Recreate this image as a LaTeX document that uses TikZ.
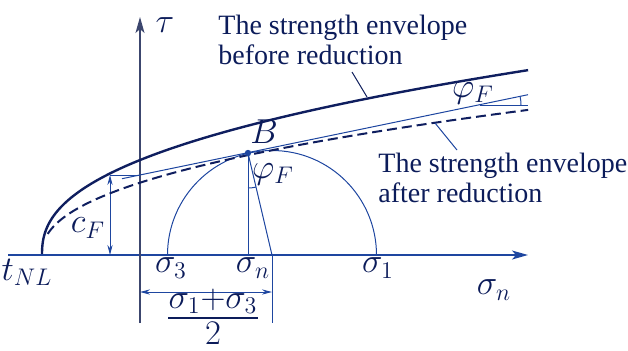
\documentclass[tikz,border=0pt]{standalone}
\usepackage{fontspec}
\setmainfont{Liberation Serif}
\usetikzlibrary{arrows.meta,calc}
\definecolor{lb}{RGB}{30,70,160}
\definecolor{tn}{RGB}{12,28,90}
\definecolor{cv}{RGB}{15,30,95}
\definecolor{ax}{RGB}{60,70,110}
\begin{document}
\begin{tikzpicture}[x=0.5pt,y=-0.5pt,
  font=\fontsize{14}{15}\selectfont,
  thinline/.style={lb, line width=0.5pt},
  axisarrow/.style={-{Stealth[length=8pt,width=4.5pt,inset=2pt]}},
  dimarrow/.style={{Stealth[length=5pt,width=2.6pt]}-{Stealth[length=5pt,width=2.6pt]}},
  lbl/.style={text=tn, inner sep=0pt},
  mlbl/.style={text=tn, inner sep=0pt, font=\fontsize{16.5}{18}\selectfont},
  curvesolid/.style={cv, line width=1.2pt},
  curvedash/.style={cv, line width=1pt, dash pattern=on 5pt off 2.5pt}]
\useasboundingbox (0,0) rectangle (628,350);
% coordinates
\coordinate (xs) at (8,255);
\coordinate (xe) at (528,255);
\coordinate (ys) at (140,323);
\coordinate (ye) at (140,17);
\coordinate (B) at (248,153);
\coordinate (Bn) at (248,255);
\coordinate (C) at (272,255);
\coordinate (S3) at (167.5,255);
\coordinate (Cd) at (272,323);
\coordinate (dL) at (140,292);
\coordinate (dR) at (272,292);
\coordinate (cT) at (110,175);
\coordinate (cB) at (110,255);
\coordinate (cA) at (140,175);
\coordinate (tS) at (122,178.7);
\coordinate (tE) at (528,94.7);
\coordinate (hS) at (480,105);
\coordinate (hE) at (528,105);
\coordinate (l1a) at (352,72);
\coordinate (l1b) at (367,97);
\coordinate (l2a) at (435,123);
\coordinate (l2b) at (457,150);
% axes
\draw[lb, line width=0.7pt, axisarrow] (xs) -- (xe);
\draw[ax, line width=0.6pt, axisarrow] (ys) -- (ye);
% Mohr circle
\draw[thinline] (S3) arc[start angle=180,end angle=360,radius=104.5];
\draw[thinline] (B) -- (Bn);
\draw[thinline] (B) -- (C);
\draw[thinline] (C) -- (Cd);
\draw[thinline, dimarrow] (dL) -- (dR);
\draw[thinline] (248,188) arc[start angle=90,end angle=76.8,radius=35];
% c_F
\draw[thinline] (cT) -- (cA);
\draw[thinline, dimarrow] (cT) -- (cB);
% tangent line
\draw[thinline] (tS) -- (tE);
\draw[thinline] (hS) -- (hE);
\draw[thinline] (521,105) arc[start angle=0,end angle=-11.7,radius=41];
% envelopes
\draw[curvesolid] plot[domain=0.05:22.05, samples=160, variable=\s] ({42+\s*\s}, {255-14.1*(\s)^(0.832)});
\draw[curvedash] plot[domain=2.4:22.05, samples=140, variable=\s] ({42+\s*\s}, {255-9.84*(\s)^(0.87)});
% B point
\fill[lb] (B) circle[radius=3.2];
% leaders
\draw[thinline, tn] (l1a) -- (l1b);
\draw[thinline] (l2a) -- (l2b);
% labels
\node[mlbl] (tau) at (165,25) {$\tau$};
\node[lbl, anchor=west, align=left] (env1) at (218,40) {The strength envelope\\before reduction};
\node[lbl, anchor=west, align=left] (env2) at (378,178) {The strength envelope\\after reduction};
\node[mlbl] (Blab) at (264,132) {$B$};
\node[mlbl] (phi1) at (273,174) {$\varphi_F$};
\node[mlbl] (phi2) at (473,93) {$\varphi_F$};
\node[mlbl] (cF) at (88,228) {$c_F$};
\node[mlbl] (tNL) at (27,272) {$t_{NL}$};
\node[mlbl] (s3) at (171,268) {$\sigma_3$};
\node[mlbl] (sn) at (253,268) {$\sigma_n$};
\node[mlbl] (s1) at (378,268) {$\sigma_1$};
\node[mlbl] (snx) at (494,290) {$\sigma_n$};
\node[mlbl, anchor=south] (fnum) at (213,314) {$\sigma_1{+}\sigma_3$};
\draw[tn, line width=0.7pt] ($(fnum.south west)+(0,4)$) -- ($(fnum.south east)+(0,4)$);
\node[mlbl, anchor=north] (fden) at (213,322) {$2$};
\end{tikzpicture}
\end{document}
